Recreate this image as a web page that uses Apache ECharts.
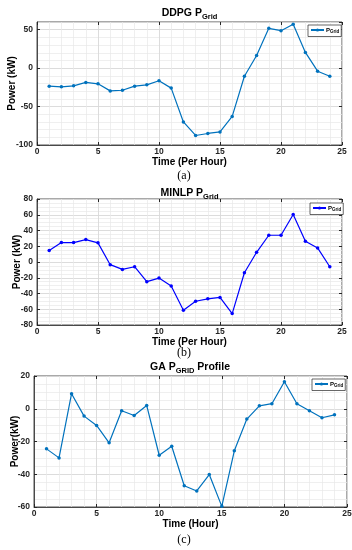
<!DOCTYPE html>
<html><head><meta charset="utf-8">
<script src="https://cdn.jsdelivr.net/npm/echarts@6/dist/echarts.min.js"></script>
<style>html,body{margin:0;padding:0;background:#fff}#c{width:352px;height:550px}</style>
</head><body><div id="c"></div>
<script>
// ---- data ----
const hours = [1,2,3,4,5,6,7,8,9,10,11,12,13,14,15,16,17,18,19,20,21,22,23,24];
const ddpg  = [-23.5,-24.3,-23,-18.6,-20.4,-29.6,-28.8,-23.5,-21.7,-16.4,-26,-70,-87.6,-85,-83,-62.8,-10.6,16.4,51.8,48.7,57,20.4,-4,-10.6];
const minlp = [14.5,24.7,24.7,28.5,24.3,-3.4,-9.4,-6,-25,-20.4,-30.6,-61.3,-49.8,-46.8,-45,-65.5,-13.6,12.3,34,34,60.4,26.4,17.9,-6];
const ga    = [-24.5,-30,9.2,-4.5,-10.2,-20.8,-1.2,-4.1,2,-28.4,-22.9,-47,-50.2,-40.2,-59.6,-25.7,-6.3,1.8,3.1,16.5,3.1,-1.2,-5.5,-3.7];
const xTicks  = [0,5,10,15,20,25];
const yTicksA = [-100,-50,0,50];
const yTicksB = [-80,-60,-40,-20,0,20,40,60,80];
const yTicksC = [-60,-40,-20,0,20];

const FONT = 'Liberation Sans, Arial, sans-serif';
const panels = [
  {grid:{left:37,top:22,width:305,height:123}, data:ddpg, color:'#0072BD', yTicks:yTicksA, yMax:60, yMinor:10,
   title:['DDPG P','Grid',''], tx:189.5, ty:13, xName:'Time (Per Hour)', yName:'Power (kW)', yGap:20, xGap:12,
   tag:'(a)', tagY:176, legend:{left:308,top:25}},
  {grid:{left:37,top:199,width:305,height:126}, data:minlp, color:'#0000FF', yTicks:yTicksB, yMax:80, yMinor:5,
   title:['MINLP P','Grid',''], tx:189.5, ty:193, xName:'Time (Per Hour)', yName:'Power (kW)', yGap:15, xGap:11,
   tag:'(b)', tagY:353, legend:{left:310,top:203}},
  {grid:{left:34,top:376,width:313,height:131}, data:ga, color:'#0072BD', yTicks:yTicksC, yMax:20, yMinor:5,
   title:['GA P','GRID',' Profile'], tx:190, ty:367, xName:'Time (Hour)', yName:'Power(kW)', yGap:14, xGap:11,
   tag:'(c)', tagY:540, legend:{left:312,top:379}}
];

const grids=[], xAxes=[], yAxes=[], series=[], legends=[], graphics=[];
const axCol = '#262626';
panels.forEach((p,i)=>{
  grids.push(Object.assign({show:true, borderColor:axCol, borderWidth:0.8, backgroundColor:'#fff', containLabel:false, outerBoundsMode:'none'}, p.grid));
  const xMin = xTicks[0], xMax = xTicks[xTicks.length-1], xInt = xTicks[1]-xTicks[0];
  const yMin = p.yTicks[0], yInt = p.yTicks[1]-p.yTicks[0];
  const base = xAxes.length;
  xAxes.push({gridIndex:i, type:'value', position:'bottom', min:xMin, max:xMax, interval:1, axisLine:{show:false, onZero:false}, axisTick:{show:false}, axisLabel:{show:false},
    splitLine:{show:true, lineStyle:{color:'#e8e8e8', width:0.7}}});
  xAxes.push({gridIndex:i, type:'value', position:'bottom', min:xMin, max:xMax, interval:xInt,
    name:p.xName, nameLocation:'middle', nameGap:p.xGap, nameTextStyle:{fontFamily:FONT, fontWeight:'bold', fontSize:10, color:'#000'},
    axisLine:{show:true, onZero:false, lineStyle:{color:axCol, width:0.8}}, axisTick:{show:true, inside:true, length:3, lineStyle:{color:axCol}},
    axisLabel:{fontFamily:FONT, fontWeight:'bold', fontSize:8.5, color:axCol, margin:2},
    splitLine:{show:true, lineStyle:{color:'#d4d4d4', width:0.7}}});
  xAxes.push({gridIndex:i, type:'value', position:'top', min:xMin, max:xMax, interval:xInt,
    axisLine:{show:false, onZero:false}, axisTick:{show:true, inside:true, length:3, lineStyle:{color:axCol}}, axisLabel:{show:false}, splitLine:{show:false}});
  const ybase = yAxes.length;
  yAxes.push({gridIndex:i, type:'value', position:'left', min:yMin, max:p.yMax, interval:p.yMinor, axisLine:{show:false, onZero:false}, axisTick:{show:false}, axisLabel:{show:false},
    splitLine:{show:true, lineStyle:{color:'#e8e8e8', width:0.7}}});
  yAxes.push({gridIndex:i, type:'value', position:'left', min:yMin, max:p.yMax, interval:yInt,
    name:p.yName, nameLocation:'middle', nameGap:p.yGap, nameMoveOverlap:false, nameTextStyle:{fontFamily:FONT, fontWeight:'bold', fontSize:10, color:'#000'},
    axisLine:{show:true, onZero:false, lineStyle:{color:axCol, width:0.8}}, axisTick:{show:true, inside:true, length:3, lineStyle:{color:axCol}},
    axisLabel:{fontFamily:FONT, fontWeight:'bold', fontSize:8.5, color:axCol, margin:4, showMaxLabel: p.yTicks.indexOf(p.yMax)>=0},
    splitLine:{show:true, lineStyle:{color:'#d4d4d4', width:0.7}}});
  yAxes.push({gridIndex:i, type:'value', position:'right', min:yMin, max:p.yMax, interval:yInt,
    axisLine:{show:false, onZero:false}, axisTick:{show:true, inside:true, length:3, lineStyle:{color:axCol}}, axisLabel:{show:false}, splitLine:{show:false}});
  const name = 'PGrid'+i;
  series.push({name, type:'line', xAxisIndex:base+1, yAxisIndex:ybase+1,
    data: hours.map((h,k)=>[h,p.data[k]]), symbol:'circle', symbolSize:3.5, showSymbol:true,
    lineStyle:{color:p.color, width:1.2}, itemStyle:{color:p.color}, animation:false, z:5});
  legends.push({data:[name], left:p.legend.left, top:p.legend.top, orient:'vertical',
    itemWidth:13, itemHeight:4, itemGap:0, padding:[2,2,2,2], borderColor:axCol, borderWidth:0.7, backgroundColor:'#fff',
    selectedMode:false, formatter:()=>'{p|P}{s|Grid}',
    textStyle:{padding:[0,0,0,-3], rich:{p:{fontFamily:FONT, fontSize:6, fontWeight:'bold', color:'#000', lineHeight:9, verticalAlign:'middle'},
                        s:{fontFamily:FONT, fontSize:4.5, fontWeight:'bold', color:'#000', lineHeight:9, verticalAlign:'bottom'}}}});
  graphics.push({type:'text', x:p.tx, y:p.ty, style:{text:'{m|'+p.title[0]+'}{s|'+p.title[1]+'}'+(p.title[2]?'{m|'+p.title[2]+'}':''),
    align:'center', verticalAlign:'middle',
    rich:{m:{fontFamily:FONT, fontSize:10.5, fontWeight:'bold', fill:'#000', lineHeight:15, verticalAlign:'middle'},
          s:{fontFamily:FONT, fontSize:7.5, fontWeight:'bold', fill:'#000', lineHeight:15, verticalAlign:'bottom'}}}});
  graphics.push({type:'text', x:184, y:p.tagY, style:{text:p.tag, align:'center', verticalAlign:'middle',
    font:'12px "Liberation Serif", "Times New Roman", serif', fill:'#000'}});
});

const chart = echarts.init(document.getElementById('c'), null, {renderer:'canvas'});
chart.setOption({backgroundColor:'#fff', animation:false, grid:grids, xAxis:xAxes, yAxis:yAxes, series, legend:legends, graphic:graphics});
</script></body></html>
